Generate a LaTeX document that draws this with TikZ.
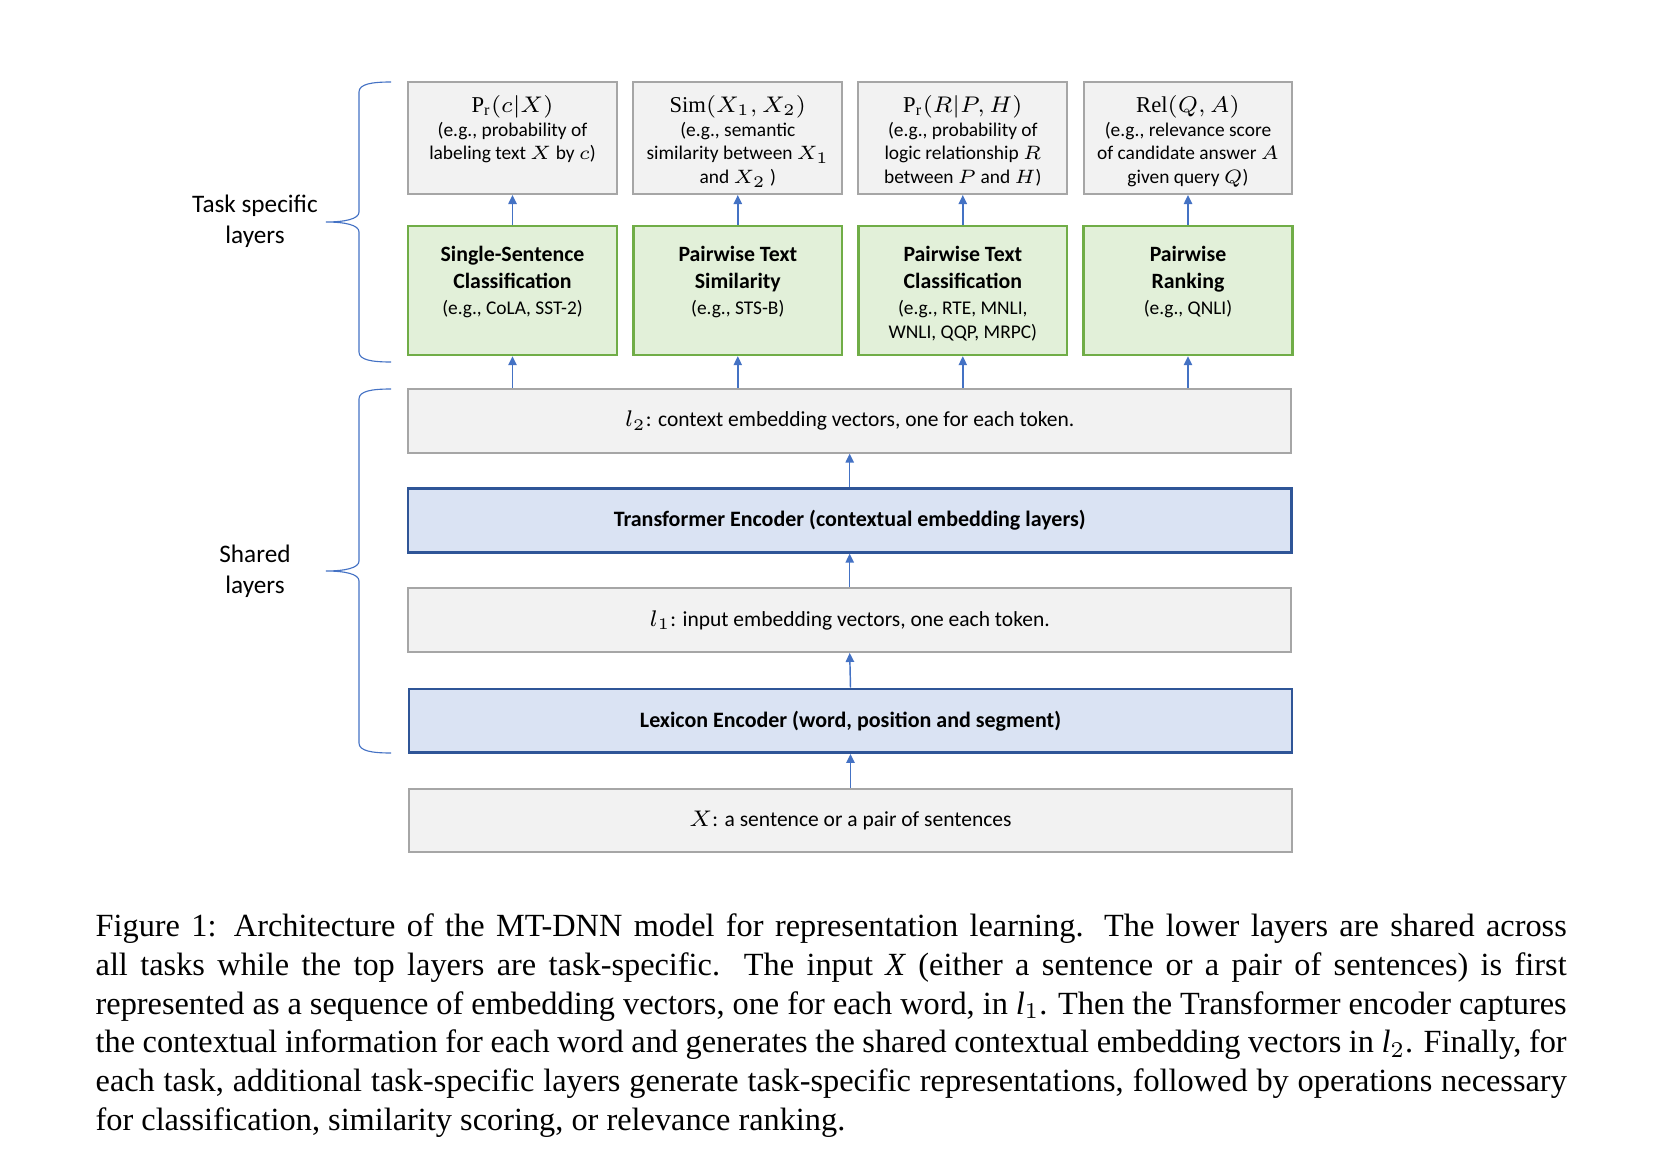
\documentclass[tikz,border=0pt]{standalone}
\usepackage{fontspec}
\setmainfont{Liberation Serif}
\newfontfamily\carlito{Carlito}
\usetikzlibrary{arrows.meta}

\definecolor{arrowblue}{HTML}{4472C4}
\definecolor{boxgray}{HTML}{F2F2F2}
\definecolor{linegray}{HTML}{A6A6A6}
\definecolor{taskgreen}{HTML}{E2F0D9}
\definecolor{taskline}{HTML}{70AD47}
\definecolor{encblue}{HTML}{DAE3F3}
\definecolor{encline}{HTML}{2F5597}

\newcommand{\ttl}[1]{{\fontsize{6.75}{8.2}\selectfont\bfseries #1}}
\newcommand{\hdr}[1]{{\fontsize{7}{8.4}\selectfont #1}}

\tikzset{
  outbox/.style={draw=linegray, fill=boxgray, line width=0.6pt, minimum width=64.6pt, minimum height=34.8pt, inner sep=0pt},
  taskbox/.style={draw=taskline, fill=taskgreen, line width=0.7pt, minimum width=64.6pt, minimum height=40pt, inner sep=0pt},
  layerbox/.style={draw=linegray, fill=boxgray, line width=0.6pt, minimum width=273.2pt, minimum height=19.7pt, inner sep=0pt, font=\carlito\fontsize{6.65}{7.8}\selectfont},
  encbox/.style={layerbox, draw=encline, fill=encblue, line width=0.8pt, font=\carlito\bfseries\fontsize{6.8}{8}\selectfont},
  txt/.style={anchor=north, align=center, inner sep=0pt, font=\carlito\fontsize{6}{7.4}\selectfont},
  side/.style={align=center, inner sep=0pt, font=\carlito\fontsize{7.8}{9.5}\selectfont},
  arr/.style={draw=arrowblue, line width=0.45pt, -{Triangle[length=2.8pt,width=2.6pt]}},
  brc/.style={draw=arrowblue, line width=0.35pt}
}

\begin{document}
\begin{tikzpicture}[x=0.3093pt,y=-0.3093pt]
\useasboundingbox (0,0) rectangle (1662,1166);

% output boxes
\node[outbox] (pr1) at (512.5,137.8) {};
\node[outbox] (sim) at (737.8,137.8) {};
\node[outbox] (pr2) at (962.8,137.8) {};
\node[outbox] (rel) at (1188,137.8) {};
\node[txt] (pr1t) at ([yshift=-4.3pt]pr1.north) {\hdr{$\mathrm{P_r}(c|X)$}\\(e.g., probability of\\labeling text $X$ by $c$)};
\node[txt] (simt) at ([yshift=-4.3pt]sim.north) {\hdr{$\mathrm{Sim}(X_1,X_2)$}\\(e.g., semantic\\similarity between $X_1$\\and $X_2$ )};
\node[txt] (pr2t) at ([yshift=-4.3pt]pr2.north) {\hdr{$\mathrm{P_r}(R|P,H)$}\\(e.g., probability of\\logic relationship $R$\\between $P$ and $H$)};
\node[txt] (relt) at ([yshift=-4.3pt]rel.north) {\hdr{$\mathrm{Rel}(Q,A)$}\\(e.g., relevance score\\of candidate answer $A$\\given query $Q$)};

% task specific layers
\node[taskbox] (ss) at (512.5,290.4) {};
\node[taskbox] (pts) at (737.8,290.4) {};
\node[taskbox] (ptc) at (962.8,290.4) {};
\node[taskbox] (pr) at (1188,290.4) {};
\node[txt] (sst) at ([yshift=-6.5pt]ss.north) {\ttl{Single-Sentence}\\[0.9pt]\ttl{Classification}\\[0.6pt](e.g., CoLA, SST-2)};
\node[txt] (ptst) at ([yshift=-6.5pt]pts.north) {\ttl{Pairwise Text}\\[0.9pt]\ttl{Similarity}\\[0.6pt](e.g., STS-B)};
\node[txt] (ptct) at ([yshift=-6.5pt]ptc.north) {\ttl{Pairwise Text}\\[0.9pt]\ttl{Classification}\\[0.6pt](e.g., RTE, MNLI,\\WNLI, QQP, MRPC)};
\node[txt] (prt) at ([yshift=-6.5pt]pr.north) {\ttl{Pairwise}\\[0.9pt]\ttl{Ranking}\\[0.6pt](e.g., QNLI)};

% shared layers
\node[layerbox] (l2) at (849.7,420.8) {$l_2$: context embedding vectors, one for each token.};
\node[encbox] (trans) at (849.7,520.5) {Transformer Encoder (contextual embedding layers)};
\node[layerbox] (l1) at (849.7,620.1) {$l_1$: input embedding vectors, one each token.};
\node[encbox] (lex) at (850.5,720.8) {Lexicon Encoder (word, position and segment)};
\node[layerbox] (inp) at (850.5,820.4) {$X$: a sentence or a pair of sentences};

\draw[arr] (inp.north) -- (lex.south);
\draw[arr] (lex.north) -- (l1.south);
\draw[arr] (l1.north) -- (trans.south);
\draw[arr] (trans.north) -- (l2.south);

\draw[arr] (l2.north -| ss.south) -- (ss.south);
\draw[arr] (l2.north -| pts.south) -- (pts.south);
\draw[arr] (l2.north -| ptc.south) -- (ptc.south);
\draw[arr] (l2.north -| pr.south) -- (pr.south);

\draw[arr] (ss.north) -- (pr1.south);
\draw[arr] (pts.north) -- (sim.south);
\draw[arr] (ptc.north) -- (pr2.south);
\draw[arr] (pr.north) -- (rel.south);

% braces
\draw[brc] (391,82) .. controls (372,82) and (359,84) .. (359,92) -- (359,212)
  .. controls (359,219) and (345,222) .. (326,222) .. controls (345,222) and (359,225) .. (359,232)
  -- (359,352) .. controls (359,360) and (372,362) .. (391,362);
\draw[brc] (391,389) .. controls (372,389) and (359,391) .. (359,399) -- (359,561)
  .. controls (359,568) and (345,571) .. (326,571) .. controls (345,571) and (359,574) .. (359,581)
  -- (359,743) .. controls (359,751) and (372,753) .. (391,753);
\node[side] (tasklbl) at (255,221) {Task specific\\layers};
\node[side] (shlbl) at (255,571.5) {Shared\\layers};

% caption
\node[anchor=north west, text width=455pt, align=justify, inner sep=0pt, font=\fontsize{10}{12}\selectfont] (cap) at (95,913) {Figure 1: Architecture of the MT-DNN model for representation learning. The lower layers are shared across\linebreak all tasks while the top layers are task-specific. The input \textit{X} (either a sentence or a pair of sentences) is first\linebreak represented as a sequence of embedding vectors, one for each word, in \textit{l}$_1$. Then the Transformer encoder captures\linebreak the contextual information for each word and generates the shared contextual embedding vectors in \textit{l}$_2$. Finally, for\linebreak each task, additional task-specific layers generate task-specific representations, followed by operations necessary\linebreak for classification, similarity scoring, or relevance ranking.};
\end{tikzpicture}
\end{document}
